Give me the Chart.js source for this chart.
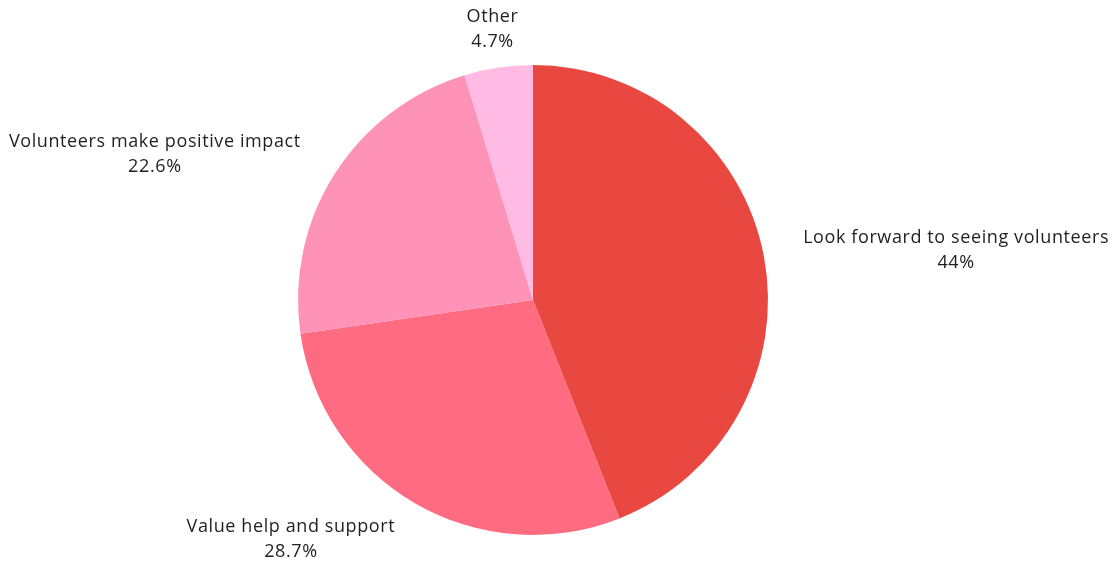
<!DOCTYPE html>
<html>
<head>
<meta charset="utf-8">
<script src="https://cdn.jsdelivr.net/npm/chart.js@4/dist/chart.umd.min.js"></script>
<style>
  html, body { margin: 0; padding: 0; background: #ffffff; }
  #wrap { width: 1116px; height: 563px; }
</style>
</head>
<body>
<div id="wrap"><canvas id="chart" width="1116" height="563"></canvas></div>
<script>
const categories = [
  'Look forward to seeing volunteers',
  'Value help and support',
  'Volunteers make positive impact',
  'Other'
];
const shares = [44, 28.7, 22.6, 4.7];
const valueLabels = ['44%', '28.7%', '22.6%', '4.7%'];
const sliceColors = ['#E8483F', '#FF6B81', '#FF92B7', '#FFBBE4'];

const FONT = '18px "Open Sans", sans-serif';
const LINE_H = 25;

// Draws each slice's name and share outside the pie, anchored past the arc midpoint.
const outerLabels = {
  id: 'outerLabels',
  afterDatasetsDraw(chart) {
    const ctx = chart.ctx;
    const meta = chart.getDatasetMeta(0);
    ctx.save();
    ctx.font = FONT;
    ctx.letterSpacing = '0.6px';
    ctx.fillStyle = '#1f1f1f';
    ctx.textBaseline = 'middle';
    meta.data.forEach((arc, i) => {
      const p = arc.getProps(['x', 'y', 'startAngle', 'endAngle', 'outerRadius'], true);
      const mid = (p.startAngle + p.endAngle) / 2;
      const r = p.outerRadius + 40;
      const dx = Math.cos(mid), dy = Math.sin(mid);
      const ax = p.x + dx * r;
      const ay = p.y + dy * r + 1.5;
      const lines = [categories[i], valueLabels[i]];
      const widths = lines.map(t => ctx.measureText(t).width);
      const blockW = Math.max(...widths);
      let cx;
      if (dx > 0.25) cx = ax + blockW / 2;
      else if (dx < -0.25) cx = ax - blockW / 2;
      else cx = ax;
      ctx.textAlign = 'center';
      const top = ay - (lines.length - 1) * LINE_H / 2;
      lines.forEach((t, k) => ctx.fillText(t, cx, top + k * LINE_H));
    });
    ctx.restore();
  }
};

new Chart(document.getElementById('chart'), {
  type: 'pie',
  data: {
    labels: categories,
    datasets: [{
      data: shares,
      backgroundColor: sliceColors,
      borderWidth: 0
    }]
  },
  options: {
    responsive: false,
    animation: false,
    layout: { padding: { left: 298, right: 348, top: 65, bottom: 28 } },
    plugins: {
      legend: { display: false },
      tooltip: { enabled: false }
    }
  },
  plugins: [outerLabels]
});
</script>
</body>
</html>
